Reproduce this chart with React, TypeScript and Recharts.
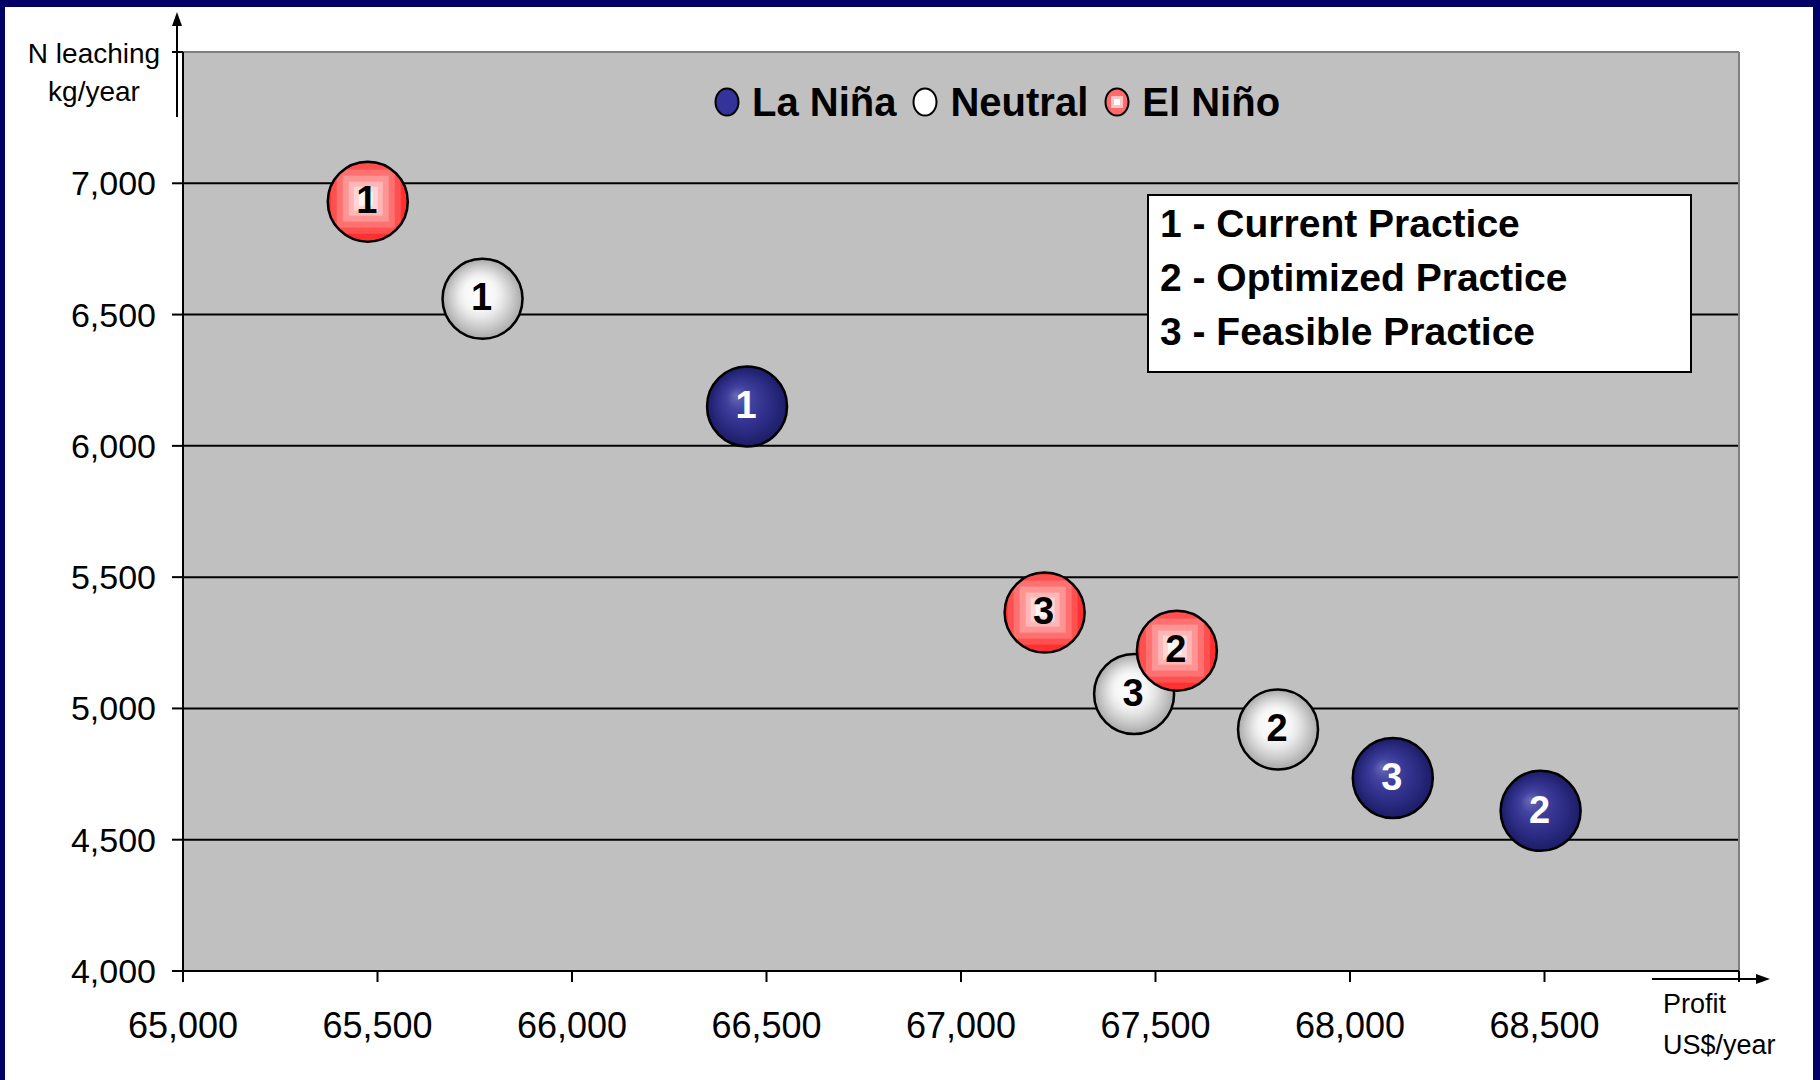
import React from "react";
import {
  ScatterChart,
  Scatter,
  XAxis,
  YAxis,
  CartesianGrid,
  ReferenceLine,
  Legend,
} from "recharts";

// practices: 1 - current, 2 - optimized, 3 - feasible
const practiceIds = [1, 2, 3];
const practiceNames = ["Current Practice", "Optimized Practice", "Feasible Practice"];

// profit (US$/year) and N leaching (kg/year), one value per practice
const laNinaProfit = [66450, 68490, 68110];
const laNinaLeaching = [6150, 4610, 4735];
const neutralProfit = [65770, 67815, 67445];
const neutralLeaching = [6560, 4920, 5055];
const elNinoProfit = [65475, 67555, 67215];
const elNinoLeaching = [6930, 5220, 5365];

const xTicks = [65000, 65500, 66000, 66500, 67000, 67500, 68000, 68500, 69000];
const yTicks = [4000, 4500, 5000, 5500, 6000, 6500, 7000, 7500];
const gridValues = [4500, 5000, 5500, 6000, 6500, 7000];

const FONT = "'Liberation Sans', Arial, Helvetica, sans-serif";
const NAVY = "#000066";
const R = 40;

const toPoints = (xs: number[], ys: number[]) =>
  practiceIds.map((id, i) => ({ id, x: xs[i], y: ys[i] }));

const laNina = toPoints(laNinaProfit, laNinaLeaching);
const neutral = toPoints(neutralProfit, neutralLeaching);
const elNino = toPoints(elNinoProfit, elNinoLeaching);

const fmt = (v: number) => v.toLocaleString("en-US");

function Label({ cx, cy, n, color }: any) {
  return (
    <text
      x={cx - 1}
      y={cy - 2}
      dy="0.36em"
      textAnchor="middle"
      fontFamily={FONT}
      fontWeight="bold"
      fontSize={38}
      fill={color}
    >
      {n}
    </text>
  );
}

function LaNinaBall(props: any) {
  const { cx, cy, payload } = props;
  const id = `ln-${payload.id}`;
  return (
    <g>
      <defs>
        <radialGradient id={id} cx="50%" cy="50%" r="50%" fx="36%" fy="36%">
          <stop offset="0%" stopColor="#6a6ab4" />
          <stop offset="30%" stopColor="#41419f" />
          <stop offset="65%" stopColor="#2e2e88" />
          <stop offset="100%" stopColor="#1c1c66" />
        </radialGradient>
      </defs>
      <circle cx={cx} cy={cy} r={R} fill={`url(#${id})`} stroke="#000" strokeWidth={2.5} />
      <Label cx={cx} cy={cy} n={payload.id} color="#fff" />
    </g>
  );
}

function NeutralBall(props: any) {
  const { cx, cy, payload } = props;
  const id = `nt-${payload.id}`;
  return (
    <g>
      <defs>
        <radialGradient id={id} cx="50%" cy="50%" r="50%" fx="44%" fy="40%">
          <stop offset="0%" stopColor="#ffffff" />
          <stop offset="40%" stopColor="#f6f6f6" />
          <stop offset="55%" stopColor="#e8e8e8" />
          <stop offset="75%" stopColor="#cdcdcd" />
          <stop offset="100%" stopColor="#a9a9a9" />
        </radialGradient>
      </defs>
      <circle cx={cx} cy={cy} r={R} fill={`url(#${id})`} stroke="#000" strokeWidth={2.5} />
      <Label cx={cx} cy={cy} n={payload.id} color="#000" />
    </g>
  );
}

const squares = [
  { h: 42, c: "#ff3030" },
  { h: 35, c: "#ff5050" },
  { h: 29, c: "#ff7070" },
  { h: 23, c: "#ff9494" },
  { h: 17, c: "#ffb6b6" },
  { h: 12, c: "#ffd6d6" },
  { h: 7, c: "#fff4f4" },
];

function ElNinoBall(props: any) {
  const { cx, cy, payload } = props;
  const id = `en-${payload.id}`;
  return (
    <g>
      <defs>
        <clipPath id={id}>
          <circle cx={cx} cy={cy} r={R} />
        </clipPath>
      </defs>
      <g clipPath={`url(#${id})`}>
        {squares.map((s, i) => (
          <rect
            key={i}
            x={cx - 2 - s.h}
            y={cy - 3 - s.h}
            width={s.h * 2}
            height={s.h * 2}
            fill={s.c}
          />
        ))}
      </g>
      <circle cx={cx} cy={cy} r={R} fill="none" stroke="#000" strokeWidth={2.5} />
      <Label cx={cx} cy={cy} n={payload.id} color="#000" />
    </g>
  );
}

function Marker({ kind }: { kind: string }) {
  return (
    <svg width={26} height={30} style={{ display: "block" }}>
      {kind === "lanina" && (
        <ellipse cx={13} cy={15} rx={11.5} ry={13.5} fill="#333399" stroke="#000" strokeWidth={2} />
      )}
      {kind === "neutral" && (
        <ellipse cx={13} cy={15} rx={11.5} ry={13.5} fill="#fff" stroke="#000" strokeWidth={2} />
      )}
      {kind === "elnino" && (
        <g>
          <ellipse cx={13} cy={15} rx={11.5} ry={13.5} fill="#ff6a6a" stroke="#000" strokeWidth={2} />
          <rect x={7} y={9} width={12} height={12} fill="#ffc4c4" />
          <rect x={10} y={12} width={6} height={6} fill="#fff" />
        </g>
      )}
    </svg>
  );
}

const legendItems = [
  { kind: "lanina", label: "La Niña" },
  { kind: "neutral", label: "Neutral" },
  { kind: "elnino", label: "El Niño" },
];

function TopLegend() {
  return (
    <div style={{ display: "flex", alignItems: "center", fontFamily: FONT }}>
      {legendItems.map((it) => (
        <div key={it.kind} style={{ display: "flex", alignItems: "center", marginRight: 16 }}>
          <Marker kind={it.kind} />
          <span
            style={{
              marginLeft: 12,
              fontSize: 40,
              fontWeight: "bold",
              color: "#000",
              lineHeight: "44px",
            }}
          >
            {it.label}
          </span>
        </div>
      ))}
    </div>
  );
}

export default function App() {
  return (
    <div
      style={{
        position: "fixed",
        left: 0,
        top: 0,
        width: 1820,
        height: 1080,
        background: "#fff",
        overflow: "hidden",
      }}
    >
      <ScatterChart
        width={1820}
        height={1080}
        margin={{ top: 52, right: 81, bottom: 49, left: 33 }}
      >
        <CartesianGrid horizontal={false} vertical={false} fill="#c0c0c0" />
        <XAxis
          type="number"
          dataKey="x"
          domain={[65000, 69000]}
          ticks={xTicks}
          interval={0}
          allowDataOverflow
          height={60}
          tickSize={11}
          tickMargin={30}
          tickFormatter={(v: number) => (v === 69000 ? "" : fmt(v))}
          tick={{ fill: "#000", fontSize: 36, fontFamily: FONT }}
          axisLine={{ stroke: "#000", strokeWidth: 2 }}
          tickLine={{ stroke: "#000", strokeWidth: 2 }}
        />
        <YAxis
          type="number"
          dataKey="y"
          domain={[4000, 7500]}
          ticks={yTicks}
          interval={0}
          allowDataOverflow
          width={150}
          tickSize={11}
          tickMargin={16}
          tickFormatter={(v: number) => (v === 7500 ? "" : fmt(v))}
          tick={{ fill: "#000", fontSize: 34, fontFamily: FONT }}
          axisLine={{ stroke: "#000", strokeWidth: 2 }}
          tickLine={{ stroke: "#000", strokeWidth: 2 }}
        />
        {gridValues.map((v) => (
          <ReferenceLine key={v} y={v} stroke="#000" strokeWidth={2} />
        ))}
        <ReferenceLine y={7500} stroke="#808080" strokeWidth={2} />
        <ReferenceLine x={69000} stroke="#808080" strokeWidth={2} />
        <Legend
          layout="horizontal"
          verticalAlign="middle"
          align="center"
          wrapperStyle={{ top: 80, left: 714, width: 640, height: 44 }}
          content={() => <TopLegend />}
        />
        <Scatter name="La Niña" data={laNina} shape={LaNinaBall} isAnimationActive={false} />
        <Scatter name="Neutral" data={neutral} shape={NeutralBall} isAnimationActive={false} />
        <Scatter name="El Niño" data={elNino} shape={ElNinoBall} isAnimationActive={false} />
      </ScatterChart>

      {/* practice key */}
      <div
        style={{
          position: "absolute",
          left: 1147,
          top: 194,
          width: 545,
          height: 179,
          boxSizing: "border-box",
          background: "#fff",
          border: "2px solid #000",
          padding: "1px 0 0 11px",
          fontFamily: FONT,
          fontWeight: "bold",
          fontSize: 39,
          lineHeight: "54px",
          color: "#000",
        }}
      >
        {practiceNames.map((p, i) => (
          <div key={p}>{`${practiceIds[i]} - ${p}`}</div>
        ))}
      </div>

      {/* axis titles and arrows */}
      <svg
        width={1820}
        height={1080}
        style={{ position: "absolute", left: 0, top: 0, pointerEvents: "none" }}
      >
        <line x1={177} y1={117} x2={177} y2={24} stroke="#000" strokeWidth={2} />
        <polygon points="177,12 172,26 182,26" fill="#000" />
        <line x1={1652} y1={979} x2={1758} y2={979} stroke="#000" strokeWidth={2} />
        <polygon points="1770,979 1756,974 1756,984" fill="#000" />
        <g fontFamily={FONT} fontSize={28} fill="#000">
          <text x={94} y={63} textAnchor="middle">N leaching</text>
          <text x={94} y={101} textAnchor="middle">kg/year</text>
          <text x={1663} y={1013} fontSize={27}>Profit</text>
          <text x={1663} y={1054} fontSize={27}>US$/year</text>
        </g>
      </svg>

      {/* frame */}
      <div style={{ position: "absolute", left: 0, top: 0, width: 1820, height: 7, background: NAVY }} />
      <div style={{ position: "absolute", left: 0, top: 0, width: 5, height: 1080, background: NAVY }} />
      <div style={{ position: "absolute", right: 0, top: 0, width: 7, height: 1080, background: NAVY }} />
    </div>
  );
}
